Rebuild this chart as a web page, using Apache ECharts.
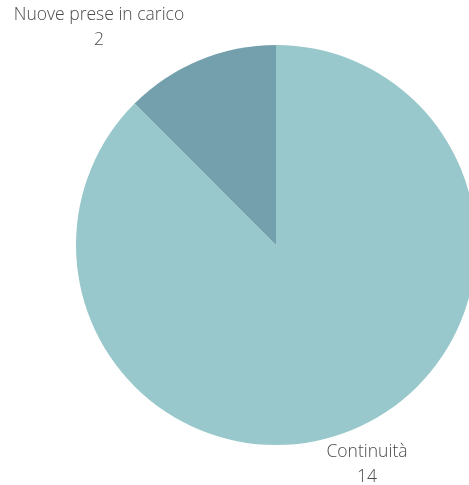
<!DOCTYPE html>
<html><head><meta charset="utf-8">
<script src="https://cdn.jsdelivr.net/npm/echarts@6/dist/echarts.min.js"></script>
<style>html,body{margin:0;padding:0;background:#fff}#c{width:469px;height:485px}</style>
</head><body><div id="c"></div>
<script>
const categories = ["Continuità", "Nuove prese in carico"];
const values = [14, 2];
const colors = ["#98c8cb", "#74a0ae"];
const labelSpots = [[367, 465], [99, 28]];

const chart = echarts.init(document.getElementById('c'), null, {renderer: 'canvas'});
chart.setOption({
  animation: false,
  series: [{
    type: 'pie',
    center: [276, 245],
    radius: [0, 200],
    startAngle: 90,
    clockwise: true,
    data: categories.map((n, i) => ({name: n, value: values[i], itemStyle: {color: colors[i]}})),
    label: {
      show: true,
      position: 'outside',
      formatter: '{b}\n{c}',
      fontFamily: 'Open Sans',
      fontSize: 17.5,
      fontWeight: 300,
      lineHeight: 25,
      color: '#4a4a4a',
      align: 'center',
      overflow: 'none',
      width: 300
    },
    labelLine: {show: false},
    labelLayout: function (p) {
      const s = labelSpots[p.dataIndex];
      return {x: s[0], y: s[1], align: 'center', verticalAlign: 'middle'};
    }
  }]
});
</script></body></html>
